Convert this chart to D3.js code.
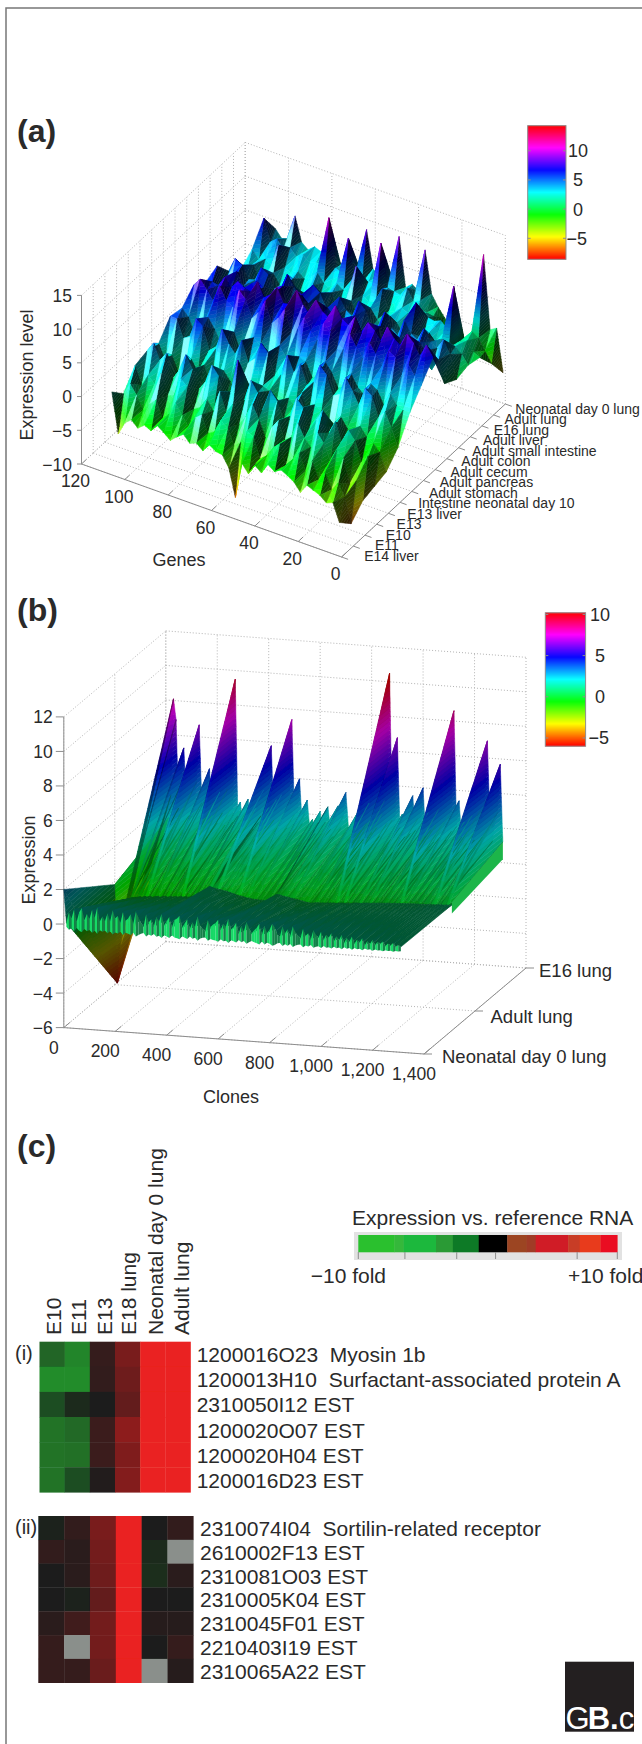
<!DOCTYPE html>
<html><head><meta charset="utf-8">
<style>html,body{margin:0;padding:0;background:#fff}svg{display:block}text{font-family:"Liberation Sans",Arial,sans-serif;fill:#2a2a2a}</style>
<script src="https://cdnjs.cloudflare.com/ajax/libs/d3/7.8.5/d3.min.js"></script>
</head><body>
<script>
// ---------- panel (a) data ----------
const tissuesA=["E14 liver","E11","E10","E13","E13 liver","Intestine neonatal day 10","Adult stomach","Adult pancreas","Adult cecum","Adult colon","Adult small intestine","Adult liver","E16 lung","Adult lung","Neonatal day 0 lung"];
const genesA=[1,4,7,10,13,16,19,22,25,28,31,34,37,40,43,46,49,52,55,58,61,64,67,70,73,76,79,82,85,88,91,94,97,100,103,106];
const geneTicks=[0,20,40,60,80,100,120];
const exprTicksA=[-10,-5,0,5,10,15];
const e14Liver=[-5,-2.4,-2.8,-2.0,-1.6,-1.2,-2.6,-1.4,-0.8,-0.3,-0.9,-0.2,-1.8,-1.0,-2.6,-1.4,-6.8,-2.8,-1.2,-1.0,-0.4,-1.6,-0.8,-1.2,-0.2,-0.9,-1.8,-1.0,-0.3,-1.4,-0.9,-1.7,-0.8,-1.6,-3.6,2.3];
const e11=[-6.8,-3.2,-1.5,-2.8,-0.6,-2.0,0.4,-1.4,0.9,-0.4,-1.6,1.2,0.3,-1.2,-2.0,0.9,1.4,-0.6,-1.4,0.8,1.6,-0.4,-1.0,1.4,0.6,-1.0,0.3,1.8,-0.2,-1.2,1.2,0.2,-1.0,0.9,2.2,0.4];
const e10=[-5,-2.4,-3.2,0.2,1.2,-0.8,1.4,2.6,0.2,1.2,3.0,0.6,-0.2,2.4,1.0,-0.8,1.6,3.4,1.2,-0.2,2.4,0.8,3.6,0.4,1.8,0.2,-0.4,2.6,3.4,0.6,0.2,3.2,1.2,2.2,0.4,3.0];
const e13=[-4.5,-0.4,-1.6,1.2,2.4,0.2,3.0,1.0,4.0,2.2,0.8,3.4,4.4,1.4,0.6,3.0,4.2,0.8,3.2,4.6,1.4,7,2.0,0.4,3.6,4.8,2.0,0.6,3.2,5.0,2.4,0.8,4.2,2.8,5.0,3.5];
const e13Liver=[-4,-1.4,-0.4,0.2,1.4,-0.6,0.4,1.8,0.2,-0.4,1.6,2.2,0.2,3.2,0.8,1.8,0.2,-0.2,1.8,2.2,0.6,1.4,0.4,-0.4,1.2,2.4,0.4,-0.2,2.2,0.8,2.4,0.4,-0.2,2.0,0.8,3.0];
const intestineN10=[-2,0.6,2.6,1.4,4.2,5.0,2.2,4.0,5.6,2.8,2.2,5.0,6.0,3.2,2.4,5.2,3.6,5.8,2.6,2.0,5.2,6.2,3.6,2.6,5.6,3.2,4.4,6.2,3.0,2.4,5.6,6.4,3.4,2.8,5.4,5.4];
const adultStomach=[1.5,1.6,2.0,3.4,1.4,3.2,3.8,1.8,2.6,4.2,2.0,1.4,3.4,4.6,2.0,1.6,3.6,4.0,1.8,3.2,4.6,2.4,1.6,3.6,4.4,2.4,1.6,4.2,3.2,1.8,3.6,5.0,2.8,1.8,4.0,5.0];
const adultPancreas=[4,5.0,6.4,4.4,6.8,7.4,4.8,6.2,7.6,5.0,6.2,7.8,5.2,4.8,7.2,8.0,5.2,6.2,7.8,5.8,4.8,8.0,6.4,5.2,8.2,6.2,5.0,7.4,8.4,5.6,6.2,8.0,5.4,6.8,8.0,6.8];
const adultCecum=[6.5,8.0,6.0,7.6,8.6,6.6,7.2,8.6,6.2,7.4,8.2,6.4,8.4,6.8,7.4,9.0,6.8,7.4,8.8,6.4,7.4,9.2,6.8,6.6,8.6,7.2,6.4,8.4,6.6,6.8,7.4,6.2,7.4,5.8,6.0,5.5];
const adultColon=[1,4.2,2.4,4.8,5.8,2.8,3.8,5.4,2.6,3.6,6.0,3.6,2.8,4.6,6.2,3.4,2.6,5.2,6.0,3.4,2.8,5.6,6.6,3.4,4.4,6.8,3.8,2.8,5.6,6.2,3.4,4.8,6.6,4.2,3.4,6.4];
const adultSmallIntestine=[0,3.4,5.2,3.6,4.2,5.8,3.8,4.4,6.0,3.4,4.2,6.2,3.8,3.4,5.4,6.4,3.8,4.4,6.0,3.8,3.6,5.6,6.4,4.0,3.6,5.2,6.6,4.2,3.8,5.6,6.2,4.0,3.8,5.6,6.2,4.0];
const adultLiver=[0.5,1.8,2.6,2.0,3.0,2.2,3.2,2.2,7,2.6,1.8,3.0,3.6,1.8,2.4,3.8,2.6,1.8,3.8,2.8,1.8,4.0,3.0,2.0,4.0,2.4,2.0,4.0,2.8,2.4,3.8,2.6,2.0,4.0,3.0,2.5];
const e16Lung=[0,0.5,1.8,1.4,9.2,2.6,3.4,3.0,3.2,3.8,2.2,2.8,3.2,2.4,2.0,5.0,2.8,2.4,3.0,7,2.4,2.8,3.4,2.2,2.8,4.0,3.0,2.4,3.2,2.6,3.0,6,2.6,3.2,2.8,4];
const adultLung=[-2.5,-1,0.6,1.2,-1.2,-1.8,-1.6,-1,-0.4,1.4,1.6,3.0,2.6,4.2,2.8,3.0,3.2,9.5,3.2,3.0,2.4,3.2,8.5,3.0,3.4,10.5,3.0,3.2,2.8,3.6,3.0,4.0,3.4,4.6,3.8,7];
const neonatalLungA=[-5.5,0.8,0.2,11,-1.5,-2.5,-2.6,-2.4,-1.6,-0.4,0.8,2.4,8.6,2.2,2.8,2.0,9.2,2.4,1.6,2.4,3,8.5,2.2,3.0,2.4,2.0,3.2,2.4,2.8,3.2,2.4,3.2,6.75,3,2.6,3.8];
const exprA=[e14Liver,e11,e10,e13,e13Liver,intestineN10,adultStomach,adultPancreas,adultCecum,adultColon,adultSmallIntestine,adultLiver,e16Lung,adultLung,neonatalLungA];

// ---------- panel (b) data ----------
const tissuesB=["Neonatal day 0 lung","Adult lung","E16 lung"];
const cloneTicks=[0,200,400,600,800,1000,1200,1400];
const exprTicksB=[-6,-4,-2,0,2,4,6,8,10,12];
const clones=[0,10,20,30,40,50,60,70,80,90,100,110,120,130,140,150,160,170,180,190,200,210,220,230,240,250,260,270,280,290,300,310,320,330,340,350,360,370,380,390,400,410,420,430,440,450,460,470,480,490,500,510,520,530,540,550,560,570,580,590,600,610,620,630,640,650,660,670,680,690,700,710,720,730,740,750,760,770,780,790,800,810,820,830,840,850,860,870,880,890,900,910,920,930,940,950,960,970,980,990,1000,1010,1020,1030,1040,1050,1060,1070,1080,1090,1100,1110,1120,1130,1140,1150,1160,1170,1180,1190,1200,1210,1220,1230,1240,1250,1260,1270,1280,1290,1300,1310];
const e16LungB=[0.8,1.2,2.5,8.1,6.9,1.8,3.2,5.3,2.1,1.4,
 2.8,1.6,3.4,6.7,2.2,1.3,2.6,4.2,1.5,2.3,
 1.1,2.9,1.7,1.0,3.1,1.9,1.2,9.5,1.6,2.4,
 1.1,1.8,2.6,1.4,0.9,2.1,1.3,1.7,3.2,1.1,
 2.2,5.8,1.5,2.7,1.2,3.0,1.8,1.1,2.5,7.4,
 1.9,1.2,4.0,1.4,2.0,2.8,1.1,1.7,0.9,1.5,
 2.2,1.0,1.6,2.5,1.2,0.8,1.9,2.6,1.3,2.0,
 3.4,1.4,0.9,1.8,1.1,2.4,1.3,0.8,1.7,2.9,
 1.2,2.3,1.5,1.0,2.3,3.1,1.8,10.5,2.0,1.2,
 6.8,1.6,2.4,1.1,1.9,1.3,3.5,1.5,2.2,1.4,
 4.0,1.2,2.6,1.6,0.9,1.9,2.8,1.3,2.1,1.1,
 2.5,1.6,8.6,1.9,3.4,1.3,2.2,1.0,1.8,2.6,
 1.2,1.9,2.9,1.4,3.3,7.0,2.1,1.2,2.4,2.9,5.7,1.2];
const adultLungB=[-0.2,-5.9,-3.9,-2.0,-1.6,-1.2,-1.0,-0.9,-0.86,-0.84,
 -0.8,-0.83,-0.77,-0.8,-0.74,-0.78,-0.73,-0.7,-0.76,-0.69,
 -0.68,-0.71,-0.65,-0.68,-0.63,-0.66,-0.61,-0.64,-0.6,-0.62,
 -0.58,-0.6,-0.55,-0.58,-0.53,-0.56,-0.5,0.1,0.04,0.0,
 -0.02,-0.06,-0.08,-0.11,-0.14,-0.18,-0.23,-0.26,-0.3,-0.33,
 -0.36,-0.4,-0.42,-0.45,-0.46,-0.47,-0.48,-0.49,-0.5,-0.5,
 -0.48,-0.47,-0.44,-0.08,-0.1,-0.14,-0.17,-0.2,-0.22,-0.25,
 -0.27,-0.3,-0.33,-0.36,-0.4,-0.42,-0.44,-0.43,-0.41,-0.4,
 -0.4,-0.38,-0.39,-0.36,-0.35,-0.34,-0.35,-0.32,-0.31,-0.3,
 -0.3,-0.28,-0.29,-0.26,-0.25,-0.24,-0.25,-0.22,-0.21,-0.2,
 -0.2,-0.18,-0.17,-0.16,-0.15,-0.14,-0.13,-0.12,-0.12,-0.1,
 -0.1,-0.09,-0.08,-0.08,-0.07,-0.06,-0.05,-0.06,-0.04,-0.04,
 -0.03,-0.04,-0.02,-0.01,-0.02,-0.01,0,0.01,0,0.02,0.02,0.05];
const neonatalLungB=[2.0,0.1,0.7,0.35,0.9,0.2,0.75,1.0,0.3,0.7,
 0.4,0.95,0.5,1.1,0.3,0.6,0.35,0.8,0.35,1.0,
 0.55,0.7,0.3,0.95,0.45,0.6,0.85,0.3,1.05,0.7,
 0.4,0.2,0.9,0.45,0.65,0.25,0.8,0.55,1.0,0.35,
 0.6,0.85,0.25,0.7,0.8,0.95,0.3,0.55,0.8,0.25,
 0.65,0.4,1.0,0.5,0.3,0.2,0.85,0.45,0.6,0.7,
 0.9,0.35,0.7,0.55,1.0,0.4,0.55,0.8,0.2,0.65,
 0.35,0.9,0.55,0.25,0.45,0.6,0.85,0.2,0.75,0.35,
 0.55,0.9,0.7,0.3,0.2,0.8,0.4,0.65,0.25,0.85,
 0.5,0.3,0.2,0.75,0.35,0.5,0.15,0.7,0.45,0.3,
 0.65,0.2,0.5,0.35,0.6,0.15,0.45,0.25,0.55,0.1,
 0.4,0.2,0.5,0.1,0.35,0.2,0.45,0.05,0.3,0.15,
 0.4,0.1,0.3,0.2,0.35,0.1,0.25,0.15,0.3,0.1,0.2,0.1];

// ---------- panel (c) data ----------
const conditions=["E10","E11","E13","E18 lung","Neonatal day 0 lung","Adult lung"];
const labelsI=["1200016O23  Myosin 1b","1200013H10  Surfactant-associated protein A","2310050I12 EST","1200020O07 EST","1200020H04 EST","1200016D23 EST"];
const labelsII=["2310074I04  Sortilin-related receptor","2610002F13 EST","2310081O03 EST","2310005K04 EST","2310045F01 EST","2210403I19 EST","2310065A22 EST"];
const matrixI=[[-0.52,-0.75,0.12,0.45,1,1],[-0.8,-0.8,0.1,0.4,1,1],[-0.35,-0.1,0.0,0.35,1,1],[-0.62,-0.55,0.15,0.55,1,1],[-0.62,-0.6,0.15,0.48,1,1],[-0.62,-0.35,0.03,0.5,1,1]];
const matrixII=[[-0.05,0.1,0.45,1,0,0.1],[0.1,0.08,0.42,1,-0.1,null],[0,0.08,0.4,1,-0.12,0.08],[0,-0.03,0.35,1,0,0],[0.07,0.18,0.42,1,0.06,0.06],[0.12,null,0.42,1,-0.02,0.12],[0.12,0.12,0.38,1,null,0.05]];
const legendEdges=[-10,-7.2,-6.5,-4,-2.7,-0.7,1.5,3,3.7,6.2,7.1,8.7,10];
const legendColors=["#2cc02f","#35b83a","#1eb83e","#2a9a35","#117a25","#000000","#9c4422","#a03b28","#d01b25","#c83e28","#e83a1c","#ea1022"];
const legendTicks=[-10,-6.4,-2.4,0.6,6.9,10];

// ---------- drawing ----------
const svg=d3.select("body").append("svg").attr("width",642).attr("height",1744);
const defs=svg.append("defs");
defs.append("filter").attr("id","soft").attr("x","-5%").attr("y","-5%").attr("width","110%").attr("height","110%")
  .append("feGaussianBlur").attr("stdDeviation",0.55);
svg.append("path").attr("d","M642,8H6V1744").attr("fill","none").attr("stroke","#777").attr("stroke-width",1.5);

function txt(g,x,y,s,size,anchor,weight){
  return g.append("text").attr("x",x).attr("y",y).attr("font-size",size).attr("text-anchor",anchor||"start").attr("font-weight",weight||null).text(s);
}
function vtxt(g,x,y,s,size,anchor){
  return g.append("text").attr("transform",`translate(${x},${y}) rotate(-90)`).attr("font-size",size).attr("text-anchor",anchor||"start").text(s);
}
function hsvColor(domain){
  const t=d3.scaleLinear(domain,[0,360]).clamp(true);
  return z=>d3.rgb(d3.hsl(t(z)%360,1,0.5));
}
function line(g,a,b,cls){
  const s=g.append("line").attr("x1",a[0]).attr("y1",a[1]).attr("x2",b[0]).attr("y2",b[1]);
  if(cls==="grid") s.attr("stroke","#b4b4b4").attr("stroke-width",1).attr("stroke-dasharray","1,2");
  else s.attr("stroke","#8d8d8d").attr("stroke-width",1);
}
function clipBand(poly,lo,hi){
  const clip=(pts,keep,lev)=>{const out=[];for(let i=0;i<pts.length;i++){const a=pts[i],b=pts[(i+1)%pts.length],ka=keep(a[2]),kb=keep(b[2]);
    if(ka)out.push(a);
    if(ka!==kb){const t=(lev-a[2])/(b[2]-a[2]);out.push([a[0]+t*(b[0]-a[0]),a[1]+t*(b[1]-a[1]),lev]);}}
    return out;};
  let p=clip(poly,z=>z>=lo,lo);
  if(p.length)p=clip(p,z=>z<=hi,hi);
  return p;
}
function surface(g,cols,nRows,matrix,opt){
  const tris=[];
  const V=(i,r)=>[cols[i],r,matrix[r][i]];
  for(let r=0;r<nRows-1;r++)for(let i=0;i<cols.length-1;i++){
    const a=V(i,r),b=V(i+1,r),c=V(i+1,r+1),d=V(i,r+1);
    tris.push([a,b,c],[a,c,d]);
  }
  const N=t=>{const [wx,wy,wz]=opt.world;
    const e1=[(t[1][0]-t[0][0])*wx,(t[1][1]-t[0][1])*wy,(t[1][2]-t[0][2])*wz],
          e2=[(t[2][0]-t[0][0])*wx,(t[2][1]-t[0][1])*wy,(t[2][2]-t[0][2])*wz];
    let n=[e1[1]*e2[2]-e1[2]*e2[1],e1[2]*e2[0]-e1[0]*e2[2],e1[0]*e2[1]-e1[1]*e2[0]];
    const l=Math.hypot(...n)||1;n=n.map(v=>v/l);if(n[2]<0)n=n.map(v=>-v);return n;};
  const dot=(a,b)=>a[0]*b[0]+a[1]*b[1]+a[2]*b[2];
  const floorY=t=>d3.mean(t,p=>opt.project(p[0],p[1],opt.zBase)[1]);
  tris.sort((p,q)=>floorY(p)-floorY(q));
  const polys=[];
  tris.forEach(t=>{
    const n=N(t);
    let s=Math.min(1,opt.amb+opt.diff*Math.max(0,dot(n,opt.light)));
    let shift=0;
    if(opt.flat&&opt.flat(t)){s=opt.flatShade;shift=opt.flatShift;}
    const sp=opt.specK*Math.pow(Math.max(0,dot(n,opt.spec)),opt.specP);
    const zs=t.map(p=>p[2]),zmin=d3.min(zs),zmax=d3.max(zs);
    const k0=Math.floor(zmin/opt.dz),k1=Math.ceil(zmax/opt.dz);
    for(let k=k0;k<k1;k++){
      const lo=k*opt.dz,hi=lo+opt.dz,p=clipBand(t,lo,hi);
      if(p.length<3)continue;
      const zm=(lo+hi)/2;
      const c=opt.color(zm+(zm>-1?shift:0));
      const col=d3.rgb(Math.min(255,c.r*s+255*sp),Math.min(255,c.g*s+255*sp),Math.min(255,c.b*s+255*sp)).formatHex();
      polys.push({d:"M"+p.map(q=>{const xy=opt.project(q[0],q[1],q[2]);return xy[0].toFixed(1)+","+xy[1].toFixed(1);}).join("L")+"Z",c:col});
    }
  });
  g.selectAll("path.m").data(polys).join("path").attr("class","m").attr("d",d=>d.d).attr("fill",d=>d.c).attr("stroke",d=>d.c).attr("stroke-width",0.5).attr("stroke-linejoin","round");
}
function colorbar(g,x0,x1,y0,y1,domain,ticks,labelCx,minusEnd,tickLen){
  const color=hsvColor(domain);
  const y=d3.scaleLinear(domain,[y1,y0]);
  const steps=d3.range(domain[0],domain[1],(domain[1]-domain[0])/134);
  g.selectAll("rect.c").data(steps).join("rect").attr("class","c").attr("x",x0).attr("width",x1-x0)
    .attr("y",d=>y(d)-(y1-y0)/134-0.3).attr("height",(y1-y0)/134+0.6).attr("fill",d=>color(d).formatHex());
  g.append("rect").attr("x",x0).attr("y",y0).attr("width",x1-x0).attr("height",y1-y0).attr("fill","none").attr("stroke","#8f8f8f");
  ticks.forEach(t=>{
    line(g,[x1-tickLen,y(t)],[x1,y(t)]);line(g,[x0,y(t)],[x0+tickLen,y(t)]);
    if(t<0) txt(g,minusEnd,y(t)+6.5,"\u2212"+Math.abs(t),18,"end");
    else txt(g,labelCx,y(t)+6.5,String(t),18,"middle");
  });
}

// ---- panel a
(function(){
  const g=svg.append("g");
  txt(g,17,142,"(a)",32,"start","bold");
  const gx=d3.scaleLinear([0,120],[341.6,81.5]),gy=d3.scaleLinear([0,120],[557,464]);
  const rx=d3.scaleLinear([0,14],[0,163.7]),ry=d3.scaleLinear([0,14],[0,-153]);
  const zy=d3.scaleLinear([-10,15],[0,-168.6]);
  const P=(a,r,z)=>[gx(a)+rx(r),gy(a)+ry(r)+zy(z)];
  const rows=d3.range(tissuesA.length);
  exprTicksA.forEach(z=>{line(g,P(120,0,z),P(120,14,z),"grid");line(g,P(120,14,z),P(0,14,z),"grid");});
  rows.forEach(r=>{line(g,P(120,r,-10),P(120,r,15),"grid");line(g,P(120,r,-10),P(0,r,-10),"grid");});
  geneTicks.forEach(a=>{line(g,P(a,14,-10),P(a,14,15),"grid");line(g,P(a,0,-10),P(a,14,-10),"grid");});
  line(g,P(120,0,-10),P(120,0,15));line(g,P(120,0,-10),P(0,0,-10));line(g,P(0,0,-10),P(0,14,-10));
  exprTicksA.forEach(z=>{const p=P(120,0,z);line(g,[p[0]-4.5,p[1]],p);
    txt(g,p[0]-9.5,p[1]+6.5,(z<0?"\u2212":"")+Math.abs(z),17.5,"end");});
  geneTicks.forEach(a=>{line(g,P(a,0,-10),P(a,0.4,-10));const p=P(a,0,-10);txt(g,p[0]-6,p[1]+23,String(a),17.5,"middle");});
  rows.forEach(r=>{const p=P(0,r,-10);line(g,p,P(-3,r,-10));
    txt(g,p[0]+22.6-0.9*r,p[1]+4+0.41*r,tissuesA[r],14);});
  vtxt(g,33,375,"Expression level",18,"middle");
  txt(g,179,566,"Genes",18,"middle");
  const s=g.append("g").attr("filter","url(#soft)");
  const dom=[-8.6,14.3];
  surface(s,genesA,tissuesA.length,exprA,{project:P,zBase:-10,world:[3.6,16,6.74],light:[0.38,-0.42,0.82],spec:[0.25,-0.78,0.57],amb:0.2,diff:1.0,specK:0.6,specP:24,dz:0.4,color:hsvColor(dom)});
  colorbar(g,527.7,566,125.7,259.3,dom,[-5,0,5,10],578,587,3);
})();

// ---- panel b
(function(){
  const g=svg.append("g");
  txt(g,17,621,"(b)",32,"start","bold");
  const cx=d3.scaleLinear([0,1400],[63.8,424]),cy=d3.scaleLinear([0,1400],[1027.6,1054]);
  const rx=d3.scaleLinear([0,2],[0,102]),ry=d3.scaleLinear([0,2],[0,-86]);
  const zy=d3.scaleLinear([-6,12],[0,-310.7]);
  const P=(c,r,z)=>[cx(c)+rx(r),cy(c)+ry(r)+zy(z)];
  const rows=d3.range(tissuesB.length);
  exprTicksB.forEach(z=>{line(g,P(0,0,z),P(0,2,z),"grid");line(g,P(0,2,z),P(1400,2,z),"grid");});
  cloneTicks.forEach(c=>{line(g,P(c,2,-6),P(c,2,12),"grid");line(g,P(c,0,-6),P(c,2,-6),"grid");});
  rows.forEach(r=>{line(g,P(0,r,-6),P(1400,r,-6),"grid");line(g,P(0,r,-6),P(0,r,12),"grid");});
  line(g,P(0,0,-6),P(0,0,12));line(g,P(0,0,-6),P(1400,0,-6));line(g,P(1400,0,-6),P(1400,2,-6));
  exprTicksB.forEach(z=>{const p=P(0,0,z);line(g,[p[0]-8,p[1]],p);
    txt(g,p[0]-11,p[1]+6.5,(z<0?"\u2212":"")+Math.abs(z),17.5,"end");});
  const fmt=d3.format(",");
  cloneTicks.forEach(c=>{const p=P(c,0,-6);line(g,p,P(c,0.12,-6));txt(g,p[0]-10,p[1]+26,fmt(c),17.5,"middle");});
  rows.forEach(r=>{const p=P(1400,r,-6);line(g,p,[p[0]+8,p[1]]);txt(g,p[0]+18-2.5*r,p[1]+(r===1?12:9),tissuesB[r],18.5);});
  vtxt(g,35,860,"Expression",18,"middle");
  txt(g,231,1103,"Clones",18,"middle");
  const dom=[-6,10.2];
  const color=hsvColor(dom);
  const s=g.append("g").attr("filter","url(#soft)");
  surface(s,clones,3,[neonatalLungB,adultLungB,e16LungB],{project:P,zBase:-6,world:[0.2574,66,17.26],light:[0.6,-0.75,0.05],spec:[0,-0.2,1],amb:0.38,diff:0.42,specK:0,specP:10,dz:0.25,color,
    flat:t=>d3.max(t,p=>p[1])<=1,flatShade:0.34,flatShift:0.9});
  // bright green ribbon along the far right edge of the sheet
  const last=clones.length-1,cl=clones[last];
  s.append("path").attr("fill","#1db54a").attr("d",d3.line()([P(cl,1,adultLungB[last]+0.15),P(cl,2,e16LungB[last]),P(cl,2,0.2),P(cl,1,adultLungB[last]-0.5)])+"Z");
  // bright green fringe hanging under the neonatal ridge
  const fringe=d3.area().x(d=>P(d.c,0,d.z)[0]).y1(d=>P(d.c,0,d.z)[1]).y0(d=>P(d.c,0,d.b)[1]);
  const cols=clones.map((c,i)=>({c,z:neonatalLungB[i],b:-0.12-neonatalLungB[i]*0.28}));
  const segs=d3.pairs(cols).slice(1);
  s.selectAll("path.f").data(segs).join("path").attr("class","f")
    .attr("d",([a,b])=>fringe([a,b]))
    .attr("fill",([a,b])=>{const c=d3.rgb(color(0.3));const k=b.z>a.z?0.85:0.5;return d3.rgb(c.r*k+20,c.g*k,c.b*k+30).formatHex();})
    .attr("stroke","none");
  colorbar(g,545.3,585.6,612.8,746.2,dom,[-5,0,5,10],600,609,3);
})();

// ---- panel c
(function(){
  const g=svg.append("g");
  txt(g,17,1157,"(c)",32,"start","bold");
  const heat=d3.scaleLinear([-1,0,1],["#24a830","#1c1c1c","#ea2220"]);
  const baselines=[61,86.4,112,136,163,189];
  conditions.forEach((c,i)=>vtxt(g,baselines[i],1335,c,21));
  function block(mat,labels,x0,x1,y0,y1,labelX,name,nameY){
    const bx=d3.scaleBand().domain(d3.range(conditions.length)).range([x0,x1]);
    const by=d3.scaleBand().domain(d3.range(labels.length)).range([y0,y1]);
    const cells=mat.flatMap((row,r)=>row.map((v,c)=>({r,c,v})));
    const sg=g.append("g").attr("filter","url(#soft)");
    sg.selectAll("rect").data(cells).join("rect").attr("x",d=>bx(d.c)).attr("y",d=>by(d.r))
      .attr("width",bx.bandwidth()+0.3).attr("height",by.bandwidth()+0.3)
      .attr("fill",d=>d.v===null?"#8a8f8b":heat(d.v));
    labels.forEach((l,r)=>txt(g,labelX,by(r)+by.bandwidth()/2+8,l,21).style("white-space","pre"));
    txt(g,15,nameY,name,20);
  }
  block(matrixI,labelsI,39.5,190.5,1341.7,1492.3,196.7,"(i)",1360);
  block(matrixII,labelsII,38.3,193.3,1516,1682.7,200,"(ii)",1534);
  // legend
  txt(g,352,1225,"Expression vs. reference RNA",21);
  g.append("rect").attr("x",354).attr("y",1232).attr("width",268).attr("height",28).attr("fill","#e2e2e2");
  const lx=d3.scaleLinear([-10,10],[358.3,617.3]);
  const lg=g.append("g").attr("filter","url(#soft)");
  lg.selectAll("rect").data(d3.pairs(legendEdges)).join("rect")
    .attr("x",d=>lx(d[0])).attr("width",d=>lx(d[1])-lx(d[0])+0.3).attr("y",1235).attr("height",17.3)
    .attr("fill",(d,i)=>legendColors[i]);
  legendTicks.forEach(t=>line(g,[lx(t),1252],[lx(t),1259]));
  txt(g,310.7,1283,"\u221210 fold",21);
  txt(g,568,1283,"+10 fold",21);
})();

// ---- logo
(function(){
  const g=svg.append("g");
  defs.append("clipPath").attr("id","logo").append("rect").attr("x",565).attr("y",1661.7).attr("width",69).attr("height",70);
  g.append("rect").attr("x",565).attr("y",1661.7).attr("width",69).attr("height",70).attr("fill","#231f20");
  const t=g.append("text").attr("clip-path","url(#logo)").attr("x",565.5).attr("y",1728.5).attr("font-size",31).style("fill","#fff");
  t.append("tspan").style("fill","#fff").attr("font-weight","normal").attr("letter-spacing",-2).text("G");
  t.append("tspan").style("fill","#fff").attr("font-weight","bold").text("B.");
  t.append("tspan").style("fill","#fff").attr("font-weight","normal").text("c");
})();
</script>
</body></html>
